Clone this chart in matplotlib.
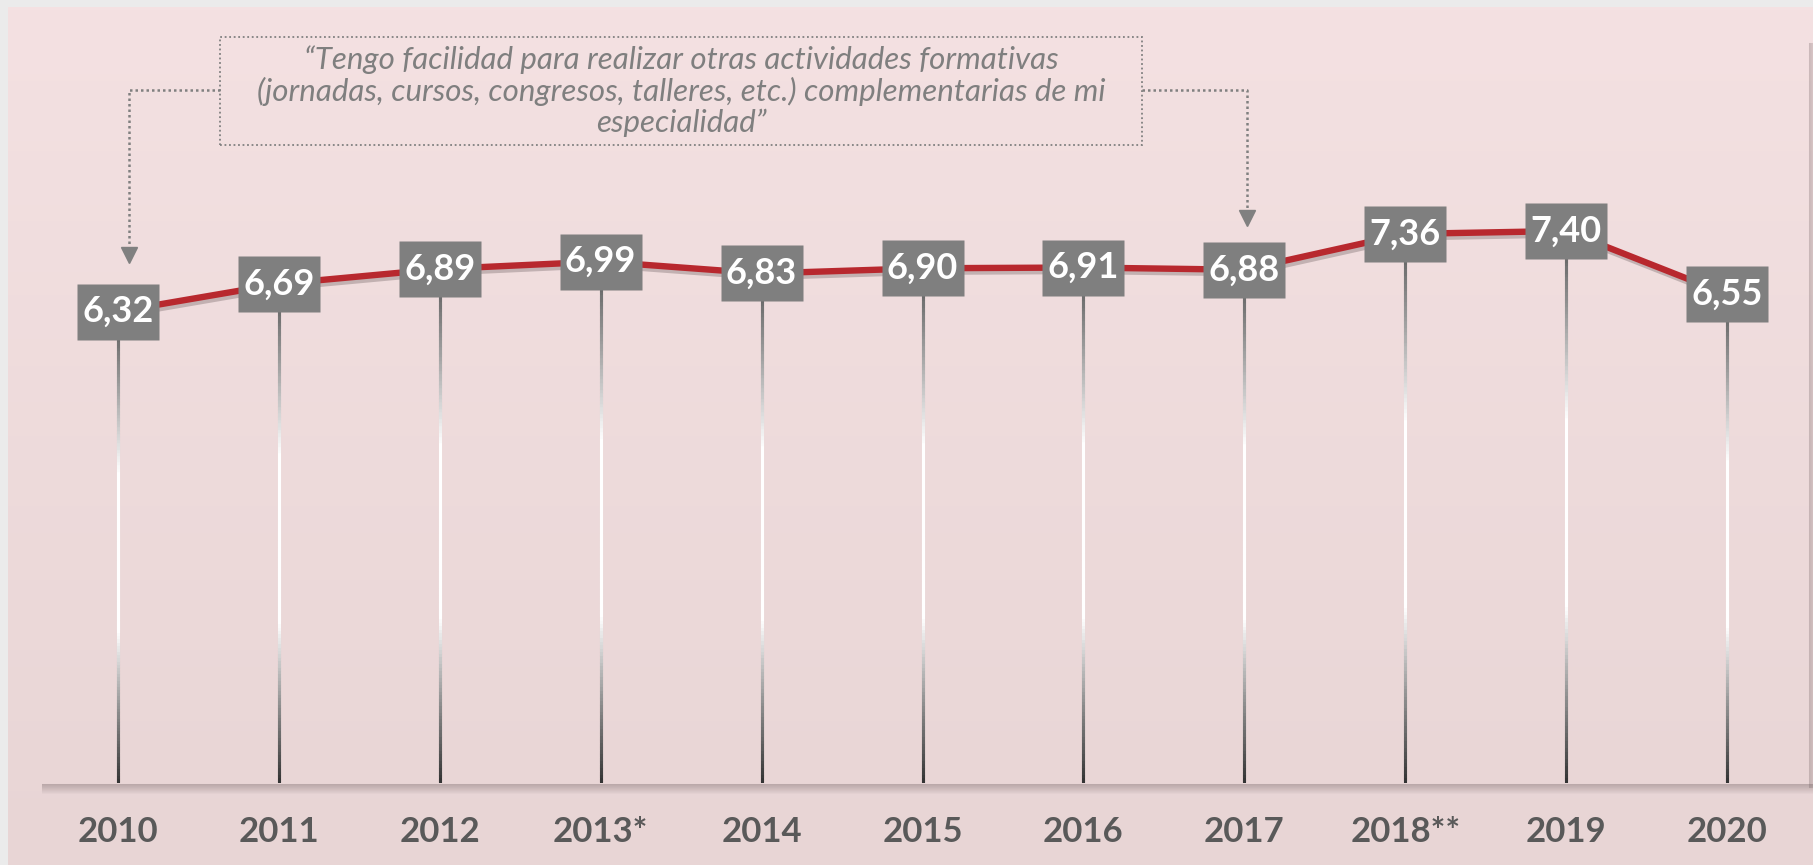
import numpy as np
import matplotlib.pyplot as plt
import matplotlib.patheffects as pe
from matplotlib.collections import LineCollection
from matplotlib.colors import LinearSegmentedColormap
from matplotlib.patches import Rectangle
from matplotlib.lines import Line2D
from matplotlib.path import Path

# Datos del gráfico
years = ['2010', '2011', '2012', '2013*', '2014', '2015', '2016', '2017', '2018**', '2019', '2020']
scores = [6.32, 6.69, 6.89, 6.99, 6.83, 6.90, 6.91, 6.88, 7.36, 7.40, 6.55]
quote = ('\u201cTengo facilidad para realizar otras actividades formativas\n'
         '(jornadas, cursos, congresos, talleres, etc.) complementarias de mi\n'
         'especialidad\u201d')

W, H = 1813, 865
plt.rcParams['font.family'] = ['Lato', 'DejaVu Sans']
fig = plt.figure(figsize=(W / 100, H / 100), dpi=100, facecolor='#ebebeb')


def fx(px):
    return px / W


def fy(py):
    return (H - py) / H


# Fondo rosado con degradado vertical
bg = fig.add_axes([fx(8), 0, 1 - fx(8), 1 - 7 / H], zorder=0)
grad = np.linspace(0, 1, 256).reshape(-1, 1)
bg_cmap = LinearSegmentedColormap.from_list('bg', ['#f4e1e2', '#e8d5d5'])
bg.imshow(grad, aspect='auto', cmap=bg_cmap, extent=[0, 1, 0, 1], origin='upper')
bg.axis('off')

# Área del gráfico
left, right, top, bottom = 37.5, 1807.5, 37, 783
ax = fig.add_axes([fx(left), fy(bottom), fx(right - left), (bottom - top) / H], zorder=1)
ax.set_facecolor('none')
x = np.arange(len(years))
ax.set_xlim(-0.5, len(years) - 0.5)
ax.set_ylim(0, 10)
for s in ax.spines.values():
    s.set_visible(False)
ax.set_yticks([])
ax.set_xticks(x)
ax.set_xticklabels(years, fontsize=25, fontweight='bold', color='#595959')
ax.tick_params(axis='x', length=0, pad=23.5)

# Sombra del área del gráfico (abajo y a la derecha)
for k in range(1, 11):
    a = 0.40 * (1 - k / 11)
    fig.add_artist(Line2D([fx(left + 4), fx(right + 4)], [fy(bottom + k)] * 2,
                          transform=fig.transFigure, color='#6e5f60', alpha=a, lw=0.75, zorder=0.5))
    fig.add_artist(Line2D([fx(right + k)] * 2, [fy(top + 6), fy(bottom + 4)],
                          transform=fig.transFigure, color='#6e5f60', alpha=a * 0.8, lw=0.75, zorder=0.5))

# Líneas verticales con degradado
drop_cmap = LinearSegmentedColormap.from_list('drop', [(0, '#333333'), (0.15, '#8c8c8c'), (0.32, '#ffffff'),
                                                       (0.66, '#ffffff'), (0.85, '#9a9a9a'), (1, '#555555')])
for xi, v in zip(x, scores):
    ys = np.linspace(0, v, 150)
    segs = [[(xi, ys[i]), (xi, ys[i + 1])] for i in range(len(ys) - 1)]
    lc = LineCollection(segs, colors=drop_cmap(ys[:-1] / v), linewidths=2.2, capstyle='projecting', zorder=2)
    ax.add_collection(lc)

# Línea roja
ax.plot(x, scores, color='#b8282e', lw=4.6, zorder=3, solid_capstyle='butt',
        path_effects=[pe.SimpleLineShadow(offset=(1.5, -2.5), shadow_color='#6e5f60', alpha=0.35), pe.Normal()])

# Cajas grises de las etiquetas (marcador rectangular 82x56 px)
box = Path([(-41, -28), (41, -28), (41, 28), (-41, 28), (-41, -28)],
           [Path.MOVETO, Path.LINETO, Path.LINETO, Path.LINETO, Path.CLOSEPOLY])
ax.plot(x, scores, ls='none', marker=box, ms=59, mfc='#7f7f7f', mec='none', zorder=4)

# Etiquetas de valores
for xi, v in zip(x, scores):
    ax.text(xi, v, f'{v:.2f}'.replace('.', ','), ha='center', va='center', fontsize=26,
            fontweight='bold', color='white', zorder=5)

# Cuadro de la cita
fig.add_artist(Rectangle((fx(220), fy(145)), fx(922), 108 / H, transform=fig.transFigure,
                         fill=False, ec='#808080', lw=1.3, ls=(0, (1, 1.5)), zorder=3))
fig.text(fx(681), fy(91), quote, ha='center', va='center', style='italic', fontsize=22.5,
         color='#7f7f7f', linespacing=1.13, zorder=4)

# Conectores punteados con flecha
for xs, ys, tip in [([220, 129, 129], [90, 90, 250], (129, 255)),
                    ([1142, 1247, 1247], [90, 90, 213], (1247, 218))]:
    fig.add_artist(Line2D([fx(v) for v in xs], [fy(v) for v in ys], transform=fig.transFigure,
                          color='#808080', lw=1.8, ls=(0, (1, 1.2)), zorder=3))
    fig.add_artist(Line2D([fx(tip[0])], [fy(tip[1])], transform=fig.transFigure, marker='v',
                          ms=11, color='#808080', ls='none', zorder=3))

fig.savefig('out.png', dpi=100, facecolor=fig.get_facecolor())
